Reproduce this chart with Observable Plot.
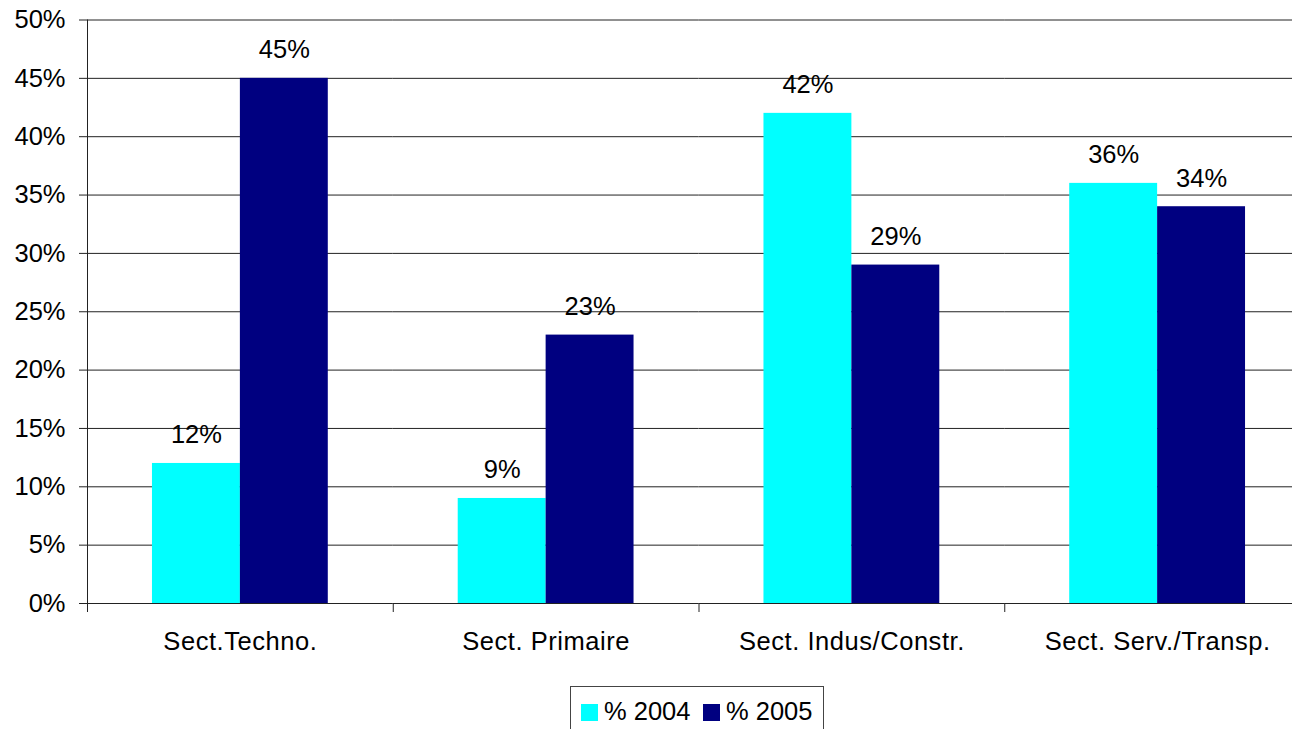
<!DOCTYPE html>
<html>
<head>
<meta charset="utf-8">
<script src="https://cdn.jsdelivr.net/npm/d3@7"></script>
<script src="https://cdn.jsdelivr.net/npm/@observablehq/plot@0.6"></script>
<style>
  html, body { margin: 0; padding: 0; background: #fff; overflow: hidden; }
  #wrap { position: relative; width: 1312px; height: 760px; }
  #wrap svg { max-width: none !important; display: block; }
  #wrap svg g[aria-label="fx-axis tick label"] text { letter-spacing: 0.55px; }
  .legend { position: absolute; left: 570px; top: 686px; width: 254px; height: 60px; box-sizing: border-box;
    border: 1px solid #444; font-family: Arial, "Liberation Sans", sans-serif; font-size: 25.5px; color: #000; }
  .legend .item { position: absolute; top: 9px; line-height: 30px; white-space: nowrap; }
  .legend .sw { display: inline-block; width: 17px; height: 17px; margin-right: 6px; vertical-align: -1px; }
</style>
</head>
<body>
<div id="wrap"></div>
<script>
const categories = ["Sect.Techno.", "Sect. Primaire", "Sect. Indus/Constr.", "Sect. Serv./Transp."];
const years = ["% 2004", "% 2005"];
const values2004 = [12, 9, 42, 36];
const values2005 = [45, 23, 29, 34];
const yTicks = [0, 5, 10, 15, 20, 25, 30, 35, 40, 45, 50];
const colors = ["#00FFFF", "#000080"];

const data = [];
categories.forEach((c, i) => {
  data.push({cat: c, year: years[0], value: values2004[i]});
  data.push({cat: c, year: years[1], value: values2005[i]});
});

const W = 1312, H = 686, MT = 19.5, MB = 83;
const font = 'Arial, "Liberation Sans", sans-serif';

const chart = Plot.plot({
  width: W,
  height: H,
  marginTop: MT,
  marginBottom: MB,
  marginLeft: 87,
  marginRight: 2,
  style: {fontFamily: font, fontSize: "25.5px", color: "#000", background: "#fff", overflow: "visible"},
  fx: {domain: categories, padding: 0, round: false, label: null},
  x: {domain: years, paddingInner: 0, paddingOuter: 0.739, round: false, axis: null},
  y: {domain: [0, 50], label: null},
  color: {domain: years, range: colors},
  marks: [
    Plot.gridY(yTicks, {stroke: "#222", strokeOpacity: 1}),
    Plot.barY(data, {fx: "cat", x: "year", y: "value", fill: "year"}),
    Plot.text(data, {fx: "cat", x: "year", y: "value", text: d => d.value + "%", lineAnchor: "bottom", dy: -20, fontSize: 25.5, fill: "#000"}),
    Plot.frame({anchor: "left", insetTop: H - MT - MB, insetBottom: -8, stroke: "#222"}),
    Plot.frame({anchor: "left", facet: "super", insetBottom: -8, stroke: "#222"}),
    Plot.axisY(yTicks, {tickSize: 8, tickPadding: 14, tickFormat: d => d + "%", label: null, fontSize: 25.5, stroke: "#222"}),
    Plot.axisFx({anchor: "bottom", tickSize: 0, tickPadding: 28, label: null, fontSize: 25.5})
  ]
});
document.getElementById("wrap").appendChild(chart);

const legend = document.createElement("div");
legend.className = "legend";
const pos = [10, 132];
years.forEach((y, i) => {
  const it = document.createElement("div");
  it.className = "item";
  it.style.left = pos[i] + "px";
  const sw = document.createElement("span");
  sw.className = "sw";
  sw.style.background = colors[i];
  it.appendChild(sw);
  it.appendChild(document.createTextNode(y));
  legend.appendChild(it);
});
document.getElementById("wrap").appendChild(legend);
</script>
</body>
</html>
